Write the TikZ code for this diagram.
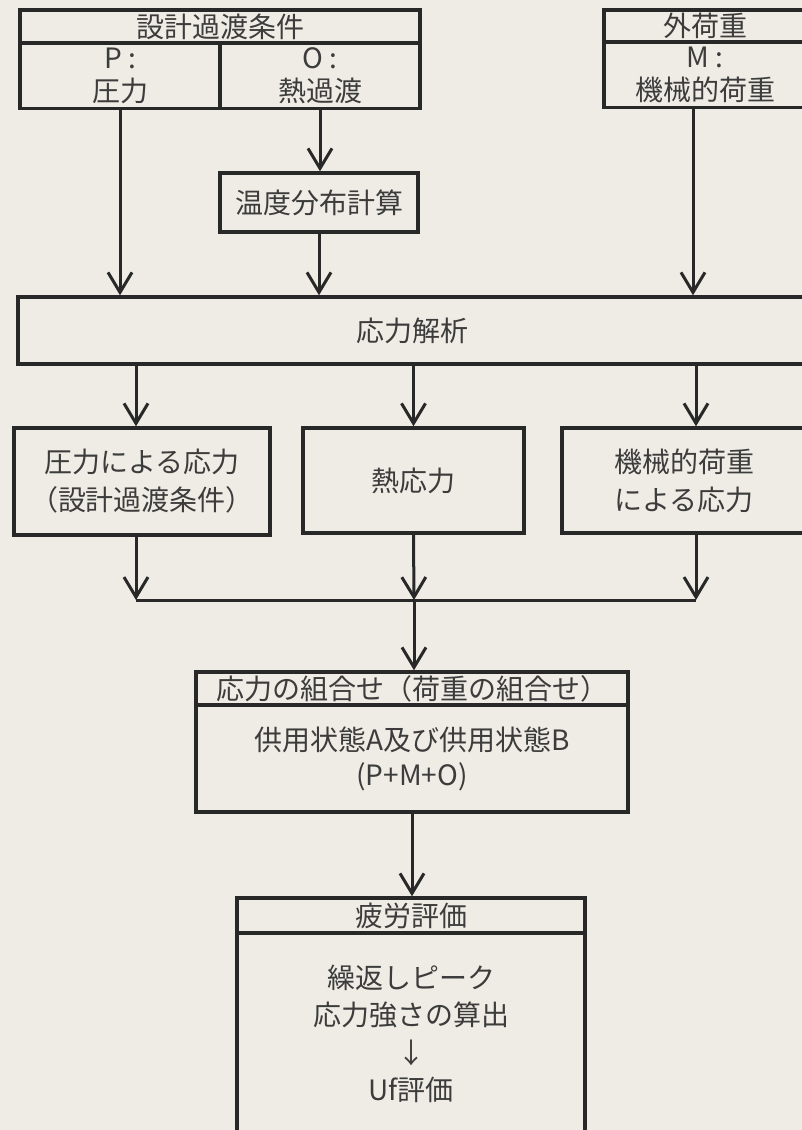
\documentclass[tikz,border=0pt]{standalone}
\usepackage{fontspec}
\setmainfont{Noto Sans CJK JP}
\usetikzlibrary{arrows.meta,calc}
\definecolor{paper}{RGB}{238,236,228}
\definecolor{ink}{RGB}{40,40,40}
\definecolor{txt}{RGB}{60,60,60}
\begin{document}
\begin{tikzpicture}[x=1pt,y=-1pt,
  box/.style={draw=ink,line width=3.4pt,rectangle,inner sep=0pt,text=txt,align=center,font=\fontsize{28}{36}\selectfont},
  lbl/.style={text=txt,align=center,inner sep=0pt,font=\fontsize{28}{38}\selectfont},
  conn/.style={draw=ink,line width=3pt},
  arr/.style={conn,-{Straight Barb[length=20pt,width=24pt,line width=3pt]}},
]
\fill[paper] (0,0) rectangle (802,1130);
\useasboundingbox (0,0) rectangle (802,1130);
\clip (0,0) rectangle (802,1130);

% top-left: design transient conditions
\node[box,minimum width=400pt,minimum height=33pt] (tcH) at (220,26.5) {設計過渡条件};
\node[box,minimum width=200pt,minimum height=65pt,font=\fontsize{28}{33}\selectfont] (tcP) at (120,76) {P :\\圧力};
\node[box,minimum width=200pt,minimum height=65pt,font=\fontsize{28}{33}\selectfont] (tcO) at (320,76) {O :\\熱過渡};

% top-right: external load
\node[box,minimum width=202pt,minimum height=32pt] (elH) at (705,26) {外荷重};
\node[box,minimum width=202pt,minimum height=65pt,font=\fontsize{28}{33}\selectfont] (elB) at (705,75) {M :\\機械的荷重};

% temperature distribution
\node[box,minimum width=198pt,minimum height=59pt] (temp) at (319,202.5) {温度分布計算};

% stress analysis
\node[box,minimum width=788pt,minimum height=67pt] (sa) at (412,330.5) {応力解析};

% three stress boxes
\node[box,minimum width=256pt,minimum height=107pt,font=\fontsize{28}{38}\selectfont] (b1) at (142,481.5) {圧力による応力\\（設計過渡条件）};
\node[box,minimum width=221pt,minimum height=105pt] (b2) at (413.5,480.5) {熱応力};
\node[box,minimum width=244pt,minimum height=105pt,font=\fontsize{28}{38}\selectfont] (b3) at (684,480.5) {機械的荷重\\による応力};

\coordinate (m1) at (136,600);
\coordinate (m2) at (414,600);
\coordinate (m3) at (696,600);

% combination
\node[box,minimum width=432pt,minimum height=33pt] (cbH) at (412,688.5) {応力の組合せ（荷重の組合せ）};
\node[box,minimum width=432pt,minimum height=107pt,font=\fontsize{28}{35}\selectfont] (cbB) at (412,758.5) {供用状態A及び供用状態B\\(P+M+O)};

% fatigue
\node[box,minimum width=348pt,minimum height=35pt] (fgH) at (411,915.5) {疲労評価};
\node[box,minimum width=348pt,minimum height=217pt] (fgB) at (411,1041.5) {};
\node[lbl,font=\fontsize{28}{37.5}\selectfont] (fgT) at (411,1034) {繰返しピーク\\応力強さの算出\\↓\\Uf評価};

% connectors
\draw[arr] (tcP.south) -- (tcP.south |- sa.north);
\draw[arr] (tcO.south) -- (tcO.south |- temp.north);
\draw[arr] (temp.south) -- (temp.south |- sa.north);
\draw[arr] ([xshift=-12pt]elB.south) -- ([xshift=-12pt]elB.south |- sa.north);

\draw[arr] ([xshift=-6pt]b1.north |- sa.south) -- ([xshift=-6pt]b1.north);
\draw[arr] (b2.north |- sa.south) -- (b2.north);
\draw[arr] ([xshift=12pt]b3.north |- sa.south) -- ([xshift=12pt]b3.north);

\draw[arr] ([xshift=-6pt]b1.south) -- (m1);
\draw[arr] (b2.south) -- (m2);
\draw[arr] ([xshift=12pt]b3.south) -- (m3);
\draw[conn] (m1) -- (m3);
\draw[arr] (m2) -- (m2 |- cbH.north);
\draw[arr] (cbB.south) -- (cbB.south |- fgH.north);
\end{tikzpicture}
\end{document}
